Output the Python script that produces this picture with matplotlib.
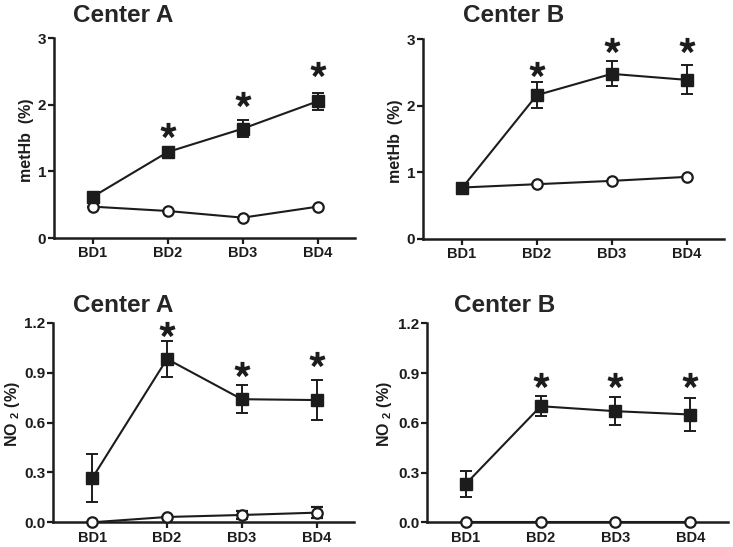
import matplotlib
matplotlib.use('Agg')
import numpy as np
import matplotlib.pyplot as plt
from matplotlib.path import Path

plt.rcParams['font.family'] = ['Liberation Sans', 'DejaVu Sans']
plt.rcParams['font.weight'] = 'bold'
plt.rcParams['mathtext.default'] = 'regular'

INK = '#1c1c1c'

# 数据
days = ['BD1', 'BD2', 'BD3', 'BD4']

methb_a_fill = [0.62, 1.29, 1.64, 2.05]
methb_a_fill_err = [0.05, 0.05, 0.13, 0.13]
methb_a_open = [0.47, 0.405, 0.305, 0.47]
methb_a_open_err = [0.0, 0.0, 0.0, 0.0]
methb_a_star = [None, 1.62, 2.09, 2.54]

methb_b_fill = [0.76, 2.16, 2.48, 2.39]
methb_b_fill_err = [0.08, 0.20, 0.19, 0.22]
methb_b_open = [0.77, 0.82, 0.87, 0.93]
methb_b_open_err = [0.0, 0.0, 0.0, 0.0]
methb_b_star = [None, 2.56, 2.91, 2.91]

no2_a_fill = [0.265, 0.982, 0.74, 0.735]
no2_a_fill_err = [0.145, 0.11, 0.085, 0.12]
no2_a_open = [0.0, 0.032, 0.044, 0.058]
no2_a_open_err = [0.0, 0.0, 0.025, 0.035]
no2_a_star = [None, 1.16, 0.92, 0.98]

no2_b_fill = [0.232, 0.70, 0.67, 0.65]
no2_b_fill_err = [0.08, 0.06, 0.085, 0.10]
no2_b_open = [0.0, 0.0, 0.0, 0.0]
no2_b_open_err = [0.0, 0.0, 0.0, 0.0]
no2_b_star = [None, 0.86, 0.86, 0.86]

W, H = 733, 547


def star_marker(arms=5, w=0.25):
    # 粗臂星号（类似 Arial Bold 的 *）
    pts = []
    r_in = w / np.sin(np.pi / arms)
    for k in range(arms):
        th = np.pi / 2 + 2 * np.pi * k / arms
        u = np.array([np.cos(th), np.sin(th)])
        n = np.array([-np.sin(th), np.cos(th)])
        a0 = th - np.pi / arms
        pts.append([r_in * np.cos(a0), r_in * np.sin(a0)])
        pts.append(list(u - w * n))
        pts.append(list(u + w * n))
    pts = np.array(pts)
    pts[:, 0] -= (pts[:, 0].min() + pts[:, 0].max()) / 2
    pts[:, 1] -= (pts[:, 1].min() + pts[:, 1].max()) / 2
    pts = np.vstack([pts, pts[:1]])
    codes = [Path.MOVETO] + [Path.LINETO] * (len(pts) - 2) + [Path.CLOSEPOLY]
    return Path(pts, codes)


STAR = star_marker()


def draw_panel(rect, title, title_xy, ylabel, ylabel_xy, ymax, yticks, ytick_labels,
               fill, fill_err, opn, opn_err, stars):
    l, b, r, t = rect
    ax = fig.add_axes([l / W, 1 - b / H, (r - l) / W, (b - t) / H])
    x = list(range(1, len(days) + 1))

    ax.errorbar(x, opn, yerr=opn_err, color=INK, lw=1.5, elinewidth=1.4, capsize=4.5,
                capthick=1.4, marker='o', ms=7.5, mfc='white', mec=INK, mew=1.6,
                clip_on=False, zorder=3)
    ax.errorbar(x, fill, yerr=fill_err, color=INK, lw=1.5, elinewidth=1.4, capsize=4.5,
                capthick=1.4, marker='s', ms=8.5, mfc=INK, mec=INK,
                clip_on=False, zorder=4)
    sx = [xi for xi, s in zip(x, stars) if s is not None]
    sy = [s for s in stars if s is not None]
    ax.plot(sx, sy, ls='none', marker=STAR, ms=11.5, color=INK, mew=0,
            clip_on=False, zorder=5)

    ax.set_xlim(0.48, 4.5)
    ax.set_ylim(0, ymax)
    ax.set_xticks(x)
    ax.set_xticklabels(days)
    ax.set_yticks(yticks)
    ax.set_yticklabels(ytick_labels)
    for s in ['top', 'right']:
        ax.spines[s].set_visible(False)
    for s in ['left', 'bottom']:
        ax.spines[s].set_linewidth(1.8)
        ax.spines[s].set_color(INK)
    ax.tick_params(axis='both', direction='out', length=4, width=1.6, colors=INK, pad=2)
    ax.tick_params(axis='x', labelsize=10.5)
    ax.tick_params(axis='y', labelsize=11, pad=1.5)

    fig.text(ylabel_xy[0] / W, 1 - ylabel_xy[1] / H, ylabel, fontsize=11.5,
             fontweight='bold', color=INK, rotation=90, ha='center', va='center')
    fig.text(title_xy[0] / W, 1 - title_xy[1] / H, title, fontsize=17.5, fontweight='bold',
             color='#262626', ha='left', va='baseline')
    return ax


fig = plt.figure(figsize=(W / 100, H / 100), dpi=100)

draw_panel((54, 238, 355, 38), 'Center A', (73, 22), 'metHb  (%)', (27, 140), 3,
           [0, 1, 2, 3], ['0', '1', '2', '3'],
           methb_a_fill, methb_a_fill_err, methb_a_open, methb_a_open_err, methb_a_star)
draw_panel((423, 238.7, 724, 39.3), 'Center B', (463, 22), 'metHb  (%)', (395, 141), 3,
           [0, 1, 2, 3], ['0', '1', '2', '3'],
           methb_b_fill, methb_b_fill_err, methb_b_open, methb_b_open_err, methb_b_star)
no2_ticks = [0, 0.3, 0.6, 0.9, 1.2]
no2_labels = ['0.0', '0.3', '0.6', '0.9', '1.2']
draw_panel((53.3, 522.3, 354, 322.7), 'Center A', (73, 312), 'NO $_2$ (%)', (12, 414), 1.2,
           no2_ticks, no2_labels,
           no2_a_fill, no2_a_fill_err, no2_a_open, no2_a_open_err, no2_a_star)
draw_panel((427, 522.3, 727.7, 323.3), 'Center B', (454, 312), 'NO $_2$ (%)', (385, 414), 1.2,
           no2_ticks, no2_labels,
           no2_b_fill, no2_b_fill_err, no2_b_open, no2_b_open_err, no2_b_star)

fig.savefig('out.png', dpi=100)
